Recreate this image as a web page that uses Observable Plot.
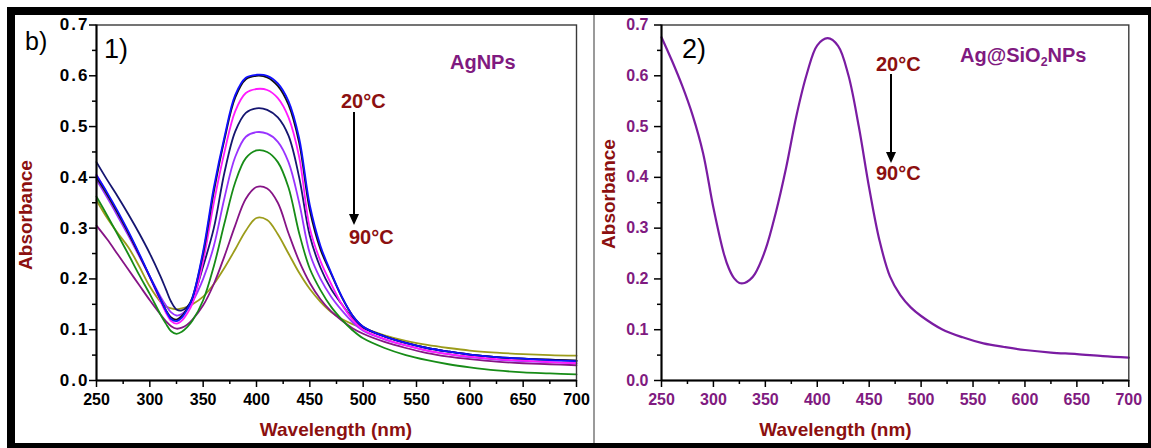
<!DOCTYPE html>
<html>
<head>
<meta charset="utf-8">
<script src="https://cdn.jsdelivr.net/npm/d3@7"></script>
<script src="https://cdn.jsdelivr.net/npm/@observablehq/plot@0.6"></script>
<style>
  html, body { margin: 0; padding: 0; background: #fff; }
  body { width: 1151px; height: 448px; overflow: hidden; position: relative;
         font-family: "Liberation Sans", Arial, sans-serif; }
  #border { position: absolute; left: 7px; top: 7px; width: 1144px; height: 441px;
            box-sizing: border-box; border-style: solid; border-color: #000;
            border-width: 8px 3px 5px 8px; }
  #divider { position: absolute; left: 593px; top: 15px; width: 2px; height: 428px; background: #9a9a9a; }
  .panel { position: absolute; top: 15px; }
  #p1 { left: 15px; }
  #p2 { left: 596px; }
  .t { position: absolute; line-height: 1; white-space: nowrap; }
  .bold { font-weight: bold; }
  .red { color: #8c1010; }
  .pur { color: #801a80; }
  .title { font-size: 19px; font-weight: bold; color: #8c1010; }
  .arrow { position: absolute; width: 2px; background: #000; }
  .head { position: absolute; width: 0; height: 0; border-left: 5px solid transparent;
          border-right: 5px solid transparent; border-top: 11px solid #000; }
  sub { font-size: 0.62em; vertical-align: -0.3em; line-height: 0; }
</style>
</head>
<body>
<div id="border"></div>
<div id="divider"></div>
<div id="p1" class="panel"></div>
<div id="p2" class="panel"></div>

<!-- annotations panel 1 -->
<div class="t" style="left:25px; top:29px; font-size:25px;">b)</div>
<div class="t" style="left:104px; top:36px; font-size:27px;">1)</div>
<div class="t bold pur" style="left:450px; top:52px; font-size:20px;">AgNPs</div>
<div class="t bold red" style="left:341px; top:91px; font-size:20px;">20°C</div>
<div class="arrow" style="left:353px; top:112px; height:104px;"></div>
<div class="head" style="left:349px; top:214px;"></div>
<div class="t bold red" style="left:349px; top:227px; font-size:20px;">90°C</div>
<div class="t title" style="left:24.5px; top:215px; transform: translate(-50%,-50%) rotate(-90deg);">Absorbance</div>
<div class="t title" style="left:336px; top:420px; transform: translateX(-50%);">Wavelength (nm)</div>

<!-- annotations panel 2 -->
<div class="t" style="left:682px; top:36px; font-size:27px;">2)</div>
<div class="t bold red" style="left:876px; top:54px; font-size:20px;">20°C</div>
<div class="arrow" style="left:890px; top:74px; height:80px;"></div>
<div class="head" style="left:886px; top:152px;"></div>
<div class="t bold red" style="left:876px; top:163px; font-size:20px;">90°C</div>
<div class="t bold pur" style="left:960px; top:45px; font-size:20px;">Ag@SiO<sub>2</sub>NPs</div>
<div class="t title" style="left:607.5px; top:193.5px; transform: translate(-50%,-50%) rotate(-90deg);">Absorbance</div>
<div class="t title" style="left:835.5px; top:420px; transform: translateX(-50%);">Wavelength (nm)</div>

<script>
// ---------- data ----------
const wavelengths = [250,260,270,280,290,300,310,315,320,325,330,335,340,350,360,370,380,390,400,410,420,430,440,450,460,470,480,490,500,520,540,560,580,600,625,650,675,700];

// Panel 1: AgNPs, 20 °C ... 90 °C
const ag20 = [0.404,0.370,0.333,0.293,0.250,0.205,0.160,0.138,0.121,0.117,0.124,0.140,0.163,0.255,0.380,0.480,0.562,0.596,0.602,0.600,0.585,0.550,0.477,0.345,0.265,0.212,0.165,0.128,0.106,0.087,0.074,0.064,0.057,0.051,0.046,0.043,0.040,0.038];
const ag30 = [0.400,0.366,0.329,0.290,0.248,0.204,0.160,0.139,0.124,0.120,0.127,0.142,0.164,0.250,0.372,0.475,0.557,0.593,0.600,0.597,0.580,0.543,0.468,0.335,0.258,0.210,0.164,0.128,0.106,0.087,0.074,0.064,0.057,0.051,0.046,0.043,0.041,0.039];
const ag40 = [0.405,0.368,0.330,0.290,0.247,0.203,0.156,0.134,0.117,0.112,0.118,0.132,0.152,0.235,0.350,0.450,0.530,0.566,0.574,0.572,0.556,0.518,0.440,0.300,0.235,0.190,0.150,0.120,0.100,0.082,0.069,0.059,0.052,0.047,0.042,0.039,0.036,0.034];
const ag50 = [0.430,0.395,0.362,0.327,0.290,0.250,0.205,0.180,0.155,0.140,0.138,0.145,0.160,0.225,0.300,0.410,0.490,0.527,0.536,0.533,0.518,0.482,0.400,0.285,0.222,0.180,0.150,0.123,0.104,0.087,0.074,0.064,0.057,0.051,0.046,0.043,0.041,0.039];
const ag60 = [0.395,0.360,0.323,0.285,0.245,0.205,0.165,0.148,0.134,0.128,0.131,0.140,0.155,0.200,0.265,0.360,0.440,0.480,0.489,0.486,0.470,0.430,0.350,0.250,0.200,0.165,0.138,0.115,0.098,0.081,0.069,0.059,0.052,0.046,0.041,0.038,0.036,0.034];
const ag70 = [0.362,0.325,0.287,0.248,0.208,0.170,0.130,0.112,0.097,0.092,0.096,0.105,0.118,0.158,0.225,0.310,0.390,0.438,0.453,0.450,0.430,0.380,0.290,0.220,0.178,0.145,0.120,0.099,0.083,0.064,0.050,0.040,0.032,0.026,0.020,0.016,0.014,0.012];
const ag80 = [0.305,0.278,0.248,0.218,0.188,0.158,0.130,0.117,0.107,0.102,0.104,0.110,0.120,0.148,0.190,0.245,0.305,0.358,0.381,0.378,0.350,0.290,0.235,0.192,0.160,0.136,0.118,0.103,0.092,0.076,0.064,0.054,0.047,0.042,0.037,0.034,0.032,0.030];
const ag90 = [0.355,0.320,0.290,0.262,0.225,0.185,0.155,0.146,0.142,0.140,0.142,0.145,0.150,0.165,0.190,0.222,0.258,0.295,0.320,0.316,0.288,0.250,0.212,0.180,0.155,0.135,0.121,0.111,0.103,0.089,0.078,0.070,0.064,0.059,0.055,0.052,0.050,0.049];

// Panel 2: Ag@SiO2NPs (all temperatures overlap)
const agSiO2 = [0.676,0.630,0.580,0.522,0.448,0.340,0.250,0.220,0.201,0.192,0.192,0.198,0.210,0.257,0.330,0.419,0.522,0.604,0.660,0.674,0.659,0.601,0.500,0.379,0.275,0.205,0.168,0.144,0.127,0.101,0.085,0.073,0.066,0.060,0.055,0.052,0.048,0.045];

const xTicks = [250,300,350,400,450,500,550,600,650,700];
const xMinor = [275,325,375,425,475,525,575,625,675];
const yTicks = [0,0.1,0.2,0.3,0.4,0.5,0.6,0.7];
const yMinor = [0.05,0.15,0.25,0.35,0.45,0.55,0.65];

// ---------- styles ----------
const panel1Series = [
  {values: ag90, color: "#9c9c1a"},
  {values: ag80, color: "#861486"},
  {values: ag70, color: "#178c17"},
  {values: ag60, color: "#9933ff"},
  {values: ag50, color: "#151570"},
  {values: ag40, color: "#ff1aff"},
  {values: ag30, color: "#111111"},
  {values: ag20, color: "#1010ff"}
];
const panel2Series = [
  {values: agSiO2, color: "#7a1ca2"}
];

const rows = vals => wavelengths.map((w, i) => ({w, a: vals[i]}));
const fmt = d3.format(".1f");

function panel({series, tickFill, width, marginLeft, marginRight, lineWidth, yFont, yPad}) {
  const xDom = [xTicks[0], xTicks[xTicks.length - 1]];
  const yDom = [yTicks[0], yTicks[yTicks.length - 1]];
  return Plot.plot({
    width, height: 428,
    marginLeft, marginRight, marginTop: 9.5, marginBottom: 63,
    x: {domain: xDom, label: null},
    y: {domain: yDom, label: null},
    style: {fontFamily: "'Liberation Sans', Arial, sans-serif", background: "transparent", overflow: "visible"},
    marks: [
      ...series.map(s => Plot.line(rows(s.values), {x: "w", y: "a", stroke: s.color, strokeWidth: lineWidth, curve: "catmull-rom"})),
      Plot.frame({stroke: "#3a3a3a", strokeWidth: 1.4}),
      Plot.ruleX([xDom[0]], {stroke: "#000", strokeWidth: 2}),
      Plot.ruleY([yDom[0]], {stroke: "#000", strokeWidth: 2}),
      Plot.axisX(xMinor, {tickSize: 4, tickFormat: () => "", strokeWidth: 1.5, label: null}),
      Plot.axisX(xTicks, {tickSize: 7, tickPadding: 6, strokeWidth: 1.5, fill: tickFill, fontSize: 16, fontWeight: "bold", label: null}),
      Plot.axisY(yMinor, {tickSize: 4, tickFormat: () => "", strokeWidth: 1.5, label: null}),
      Plot.axisY(yTicks, {tickSize: 7, tickPadding: yPad, strokeWidth: 1.5, tickFormat: fmt, fill: tickFill, fontSize: yFont, fontWeight: "bold", label: null})
    ]
  });
}

const svg1 = panel({
  series: panel1Series, tickFill: "#000", width: 578, marginLeft: 81, marginRight: 17, lineWidth: 1.8, yFont: 17, yPad: 0
});
// panel 1 y tick labels are drawn wider in the original
d3.select(svg1).selectAll("g[aria-label='y-axis tick label'] text").style("letter-spacing", "2px");
document.getElementById("p1").append(svg1);

document.getElementById("p2").append(panel({
  series: panel2Series, tickFill: "#801a80", width: 552, marginLeft: 65, marginRight: 19.7, lineWidth: 2.2, yFont: 16, yPad: 6
}));
</script>
</body>
</html>
